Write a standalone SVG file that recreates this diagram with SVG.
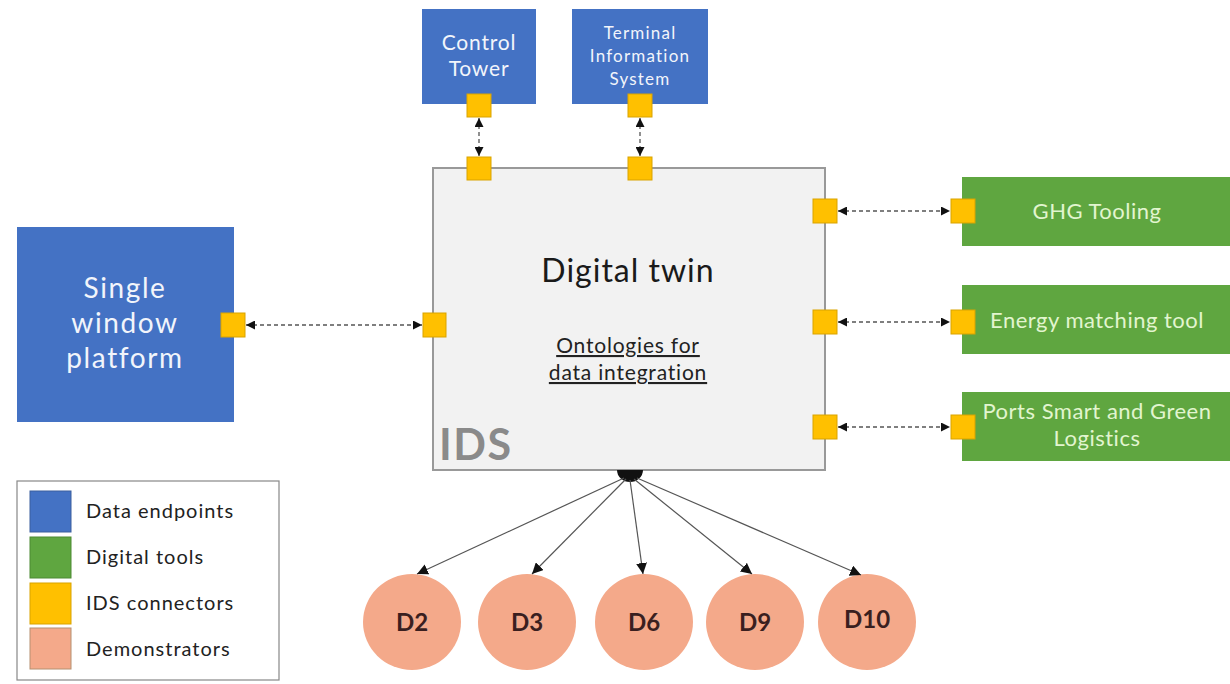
<svg xmlns="http://www.w3.org/2000/svg" width="1230" height="684" viewBox="0 0 1230 684">
<style>
text{font-family:"Lato","Open Sans","DejaVu Sans",sans-serif;}
.blue{fill:#4472c4;}
.green{fill:#5fa640;}
.conn{fill:#ffc000;stroke:#d9a300;stroke-width:1;}
.demo{fill:#f4a98a;}
.wt{fill:#f2f5fb;text-anchor:middle;}
.gt{fill:#e2f5cf;text-anchor:middle;font-size:22px;letter-spacing:0.5px;}
.dt{fill:#3a1f1f;text-anchor:middle;font-size:24px;font-weight:bold;}
.lg{fill:#222;font-size:20px;letter-spacing:1px;}
.dash{stroke:#555;stroke-width:1.3;stroke-dasharray:4 3;fill:none;marker-start:url(#ah);marker-end:url(#ah);}
.solid{stroke:#555;stroke-width:1.2;fill:none;marker-end:url(#ah2);}
</style>
<defs>
<marker id="ah" viewBox="0 0 10 10" refX="10" refY="5" markerWidth="9" markerHeight="9" markerUnits="userSpaceOnUse" orient="auto-start-reverse"><path d="M0,0 L10,5 L0,10 z" fill="#111"/></marker>
<marker id="ah2" viewBox="0 0 10 10" refX="10" refY="5" markerWidth="11" markerHeight="11" markerUnits="userSpaceOnUse" orient="auto"><path d="M0,0 L10,5 L0,10 z" fill="#111"/></marker>
</defs>
<rect width="1230" height="684" fill="#ffffff"/>

<g id="ids">
<rect x="433" y="168" width="392" height="302" fill="#f2f2f2" stroke="#999" stroke-width="2"/>
<text x="628" y="282" font-size="32" fill="#1a1a1a" text-anchor="middle" letter-spacing="1">Digital twin</text>
<text x="628" y="353" font-size="21" fill="#222" text-anchor="middle" letter-spacing="0.8" text-decoration="underline">Ontologies for</text>
<text x="628" y="380" font-size="21" fill="#222" text-anchor="middle" letter-spacing="0.8" text-decoration="underline">data integration</text>
<text x="439" y="460" font-size="43" font-weight="bold" fill="#8a8a8a" letter-spacing="1.5">IDS</text>
<path d="M617,470 A13,12 0 0 0 643,470 z" fill="#111"/>
<rect class="conn" x="467" y="157" width="24" height="23"/>
<rect class="conn" x="628" y="157" width="24" height="23"/>
<rect class="conn" x="423" y="313" width="23" height="24"/>
<rect class="conn" x="813" y="199" width="24" height="24"/>
<rect class="conn" x="813" y="310" width="24" height="24"/>
<rect class="conn" x="813" y="415" width="24" height="24"/>
</g>

<g id="control-tower">
<rect class="blue" x="422" y="9" width="114" height="95"/>
<text class="wt" x="479" y="50" font-size="21" letter-spacing="0.8">Control</text>
<text class="wt" x="479" y="76" font-size="21" letter-spacing="0.8">Tower</text>
<rect class="conn" x="467" y="94" width="24" height="23"/>
</g>

<g id="terminal-info">
<rect class="blue" x="572" y="9" width="136" height="95"/>
<text class="wt" x="640" y="39" font-size="17" letter-spacing="1.2">Terminal</text>
<text class="wt" x="640" y="62" font-size="17" letter-spacing="1.2">Information</text>
<text class="wt" x="640" y="85" font-size="17" letter-spacing="1.2">System</text>
<rect class="conn" x="628" y="94" width="24" height="23"/>
</g>

<g id="single-window">
<rect class="blue" x="17" y="227" width="217" height="195"/>
<text class="wt" x="125" y="298" font-size="28" letter-spacing="1.6">Single</text>
<text class="wt" x="125" y="333" font-size="28" letter-spacing="1.6">window</text>
<text class="wt" x="125" y="368" font-size="28" letter-spacing="1.6">platform</text>
<rect class="conn" x="221" y="313" width="24" height="24"/>
</g>

<g id="ghg">
<rect class="green" x="962" y="177" width="268" height="69"/>
<text class="gt" x="1097" y="219">GHG Tooling</text>
<rect class="conn" x="951" y="199" width="24" height="24"/>
</g>

<g id="energy">
<rect class="green" x="962" y="285" width="268" height="69"/>
<text class="gt" x="1097" y="328">Energy matching tool</text>
<rect class="conn" x="951" y="310" width="24" height="24"/>
</g>

<g id="ports">
<rect class="green" x="962" y="392" width="268" height="69"/>
<text class="gt" x="1097" y="419">Ports Smart and Green</text>
<text class="gt" x="1097" y="446">Logistics</text>
<rect class="conn" x="951" y="415" width="24" height="24"/>
</g>

<g id="d2"><ellipse class="demo" cx="412" cy="622" rx="49" ry="48"/><text class="dt" x="412" y="631">D2</text></g>
<g id="d3"><ellipse class="demo" cx="527" cy="622" rx="49" ry="48"/><text class="dt" x="527" y="631">D3</text></g>
<g id="d6"><ellipse class="demo" cx="644" cy="622" rx="49" ry="48"/><text class="dt" x="644" y="631">D6</text></g>
<g id="d9"><ellipse class="demo" cx="755" cy="622" rx="49" ry="48"/><text class="dt" x="755" y="631">D9</text></g>
<g id="d10"><ellipse class="demo" cx="867" cy="622" rx="49" ry="48"/><text class="dt" x="867" y="628">D10</text></g>

<g id="connectors">
<line class="dash" x1="479" y1="118" x2="479" y2="156"/>
<line class="dash" x1="640" y1="118" x2="640" y2="156"/>
<line class="dash" x1="246" y1="325" x2="422" y2="325"/>
<line class="dash" x1="838" y1="211" x2="950" y2="211"/>
<line class="dash" x1="838" y1="322" x2="950" y2="322"/>
<line class="dash" x1="838" y1="427" x2="950" y2="427"/>
<line class="solid" x1="624" y1="478" x2="417" y2="574"/>
<line class="solid" x1="626" y1="479" x2="532" y2="574"/>
<line class="solid" x1="630" y1="480" x2="643" y2="574"/>
<line class="solid" x1="634" y1="479" x2="752" y2="574"/>
<line class="solid" x1="637" y1="478" x2="861" y2="575"/>
</g>

<g id="legend">
<rect x="17" y="481" width="262" height="199" fill="#fff" stroke="#888" stroke-width="1.2"/>
<rect x="30" y="491" width="41" height="41" fill="#4472c4" stroke="#3a5f9e" stroke-width="1"/>
<rect x="30" y="537" width="41" height="41" fill="#5fa640" stroke="#4c8a33" stroke-width="1"/>
<rect x="30" y="583" width="41" height="41" fill="#ffc000" stroke="#d9a300" stroke-width="1"/>
<rect x="30" y="628" width="41" height="41" fill="#f4a98a" stroke="#b59070" stroke-width="1"/>
<text class="lg" x="86" y="518">Data endpoints</text>
<text class="lg" x="86" y="564">Digital tools</text>
<text class="lg" x="86" y="610">IDS connectors</text>
<text class="lg" x="86" y="656">Demonstrators</text>
</g>
</svg>
